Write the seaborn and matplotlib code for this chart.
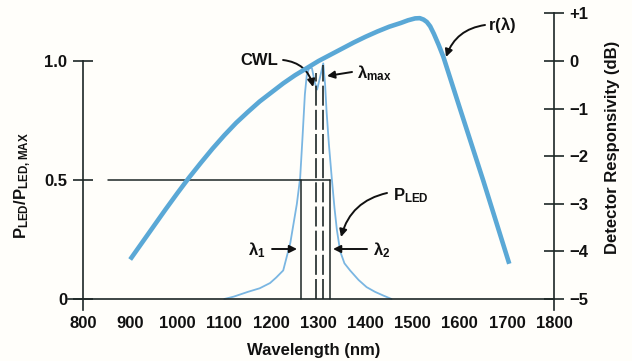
import matplotlib
matplotlib.use("Agg")
import matplotlib.pyplot as plt
import seaborn as sns
import numpy as np
import pandas as pd

# ---------------- data ----------------
# detector responsivity r(lambda), dB (right axis)
resp_wl = [900, 925, 950, 975, 1000, 1025, 1050, 1075, 1100, 1125, 1150, 1175,
           1200, 1225, 1250, 1275, 1300, 1325, 1350, 1375, 1400, 1425, 1450,
           1475, 1490, 1505, 1515, 1523, 1530, 1537, 1545, 1555, 1565, 1600,
           1650, 1705]
resp_db = [-4.17, -3.82, -3.47, -3.12, -2.78, -2.45, -2.14, -1.84, -1.56, -1.30,
           -1.07, -0.85, -0.66, -0.47, -0.30, -0.15, 0.0, 0.13, 0.26, 0.39, 0.51,
           0.62, 0.72, 0.80, 0.855, 0.895, 0.90, 0.87, 0.82, 0.73, 0.57, 0.34,
           0.09, -0.99, -2.52, -4.26]

# LED spectrum, normalised power (left axis)
led_wl = [1100, 1120, 1150, 1175, 1197, 1210, 1225, 1240, 1254, 1261, 1266, 1271,
          1275, 1280, 1286, 1292, 1297, 1303, 1310, 1314, 1317, 1322, 1328, 1334,
          1339, 1346, 1355, 1367, 1385, 1402, 1420, 1437, 1455]
led_p = [0.0, 0.01, 0.03, 0.045, 0.067, 0.09, 0.12, 0.235, 0.40, 0.51, 0.68, 0.86,
         0.94, 0.97, 0.97, 0.91, 0.88, 0.93, 0.99, 0.90, 0.79, 0.65, 0.51, 0.38,
         0.29, 0.20, 0.15, 0.12, 0.08, 0.05, 0.03, 0.015, 0.0]

# marked wavelengths
lambda_1 = 1262
cwl = 1295
lambda_max = 1310
lambda_2 = 1324
half_max = 0.5
half_line_start = 852
cwl_top = 0.95
lmax_top = 0.985

x_ticks = [800, 900, 1000, 1100, 1200, 1300, 1400, 1500, 1600, 1700, 1800]
left_ticks = [0, 0.5, 1.0]
left_ticklabels = ["0", "0.5", "1.0"]
right_ticks = [-5, -4, -3, -2, -1, 0, 1]
right_ticklabels = ["\u22125", "\u22124", "\u22123", "\u22122", "\u22121", "0", "+1"]

# ---------------- style ----------------
sns.set_style("white")
plt.rcParams["font.family"] = ["Liberation Sans", "DejaVu Sans"]
plt.rcParams["font.weight"] = "bold"
plt.rcParams["axes.labelweight"] = "bold"
plt.rcParams["mathtext.fontset"] = "custom"
plt.rcParams["mathtext.rm"] = "Liberation Sans:bold"
plt.rcParams["mathtext.it"] = "Liberation Sans:bold"
plt.rcParams["mathtext.bf"] = "Liberation Sans:bold"

INK = "#1c2626"
BLUE = "#5aa8d6"
LIGHT = "#7ab6e2"
BG = "#fffefa"
FS = 12

fig = plt.figure(figsize=(6.32, 3.61), dpi=100, facecolor=BG)
ax = fig.add_axes([68 / 632, 51 / 361, 486 / 632, 296.6 / 361])
ax.set_facecolor("none")

ybot = -11 / 238
ax.set_xlim(768, 1800)
ax.set_ylim(ybot, 1.2)

# LED spectrum
led_df = pd.DataFrame({"wl": led_wl, "p": led_p})
sns.lineplot(data=led_df, x="wl", y="p", ax=ax, color=LIGHT, lw=1.3, sort=False)
ax.get_lines()[-1].set_solid_joinstyle("round")

# half-max line and markers
ax.plot([half_line_start, lambda_2], [half_max, half_max], color=INK, lw=1.1)
ax.plot([lambda_1, lambda_1], [0, half_max], color=INK, lw=1.1)
ax.plot([lambda_2, lambda_2], [0, half_max], color=INK, lw=1.1)
ax.plot([cwl, cwl], [0, cwl_top], color=INK, lw=1.2, ls=(0, (12, 2.5)))
ax.plot([lambda_max, lambda_max], [0, lmax_top], color=INK, lw=1.2, ls=(0, (12, 2.5)))

# spines
for s in ["top", "right"]:
    ax.spines[s].set_visible(False)
ax.spines["bottom"].set_position(("data", 0))
ax.spines["bottom"].set_bounds(768, 1800)
ax.spines["left"].set_position(("data", 800))
ax.spines["left"].set_bounds(ybot, 1.0)
for s in ["bottom", "left"]:
    ax.spines[s].set_color(INK)
    ax.spines[s].set_linewidth(1.2)

ax.set_xticks(x_ticks)
ax.set_xticklabels([str(v) for v in x_ticks])
ax.set_yticks(left_ticks)
ax.set_yticklabels(left_ticklabels)
ax.tick_params(axis="x", direction="inout", length=10, width=1.2, color=INK,
               labelsize=FS, pad=7, labelcolor="#111111")
ax.tick_params(axis="y", direction="inout", length=14, width=1.2, color=INK,
               labelsize=FS, pad=4.3, labelcolor="#111111")
for lab in ax.get_xticklabels() + ax.get_yticklabels():
    lab.set_fontweight("bold")

ax.set_xlabel("Wavelength (nm)", fontsize=FS, fontweight="bold", color="#111111")
ax.xaxis.set_label_coords((314 - 68) / 486, (310 - 350) / 296.6)
ax.xaxis.label.set_va("center")
ax.set_ylabel("")

# right axis: responsivity
ax2 = ax.twinx()
ax2.set_facecolor("none")
ax2.set_ylim(-5 + 5 * ybot, 1.0)
resp_df = pd.DataFrame({"wl": resp_wl, "db": resp_db})
sns.lineplot(data=resp_df, x="wl", y="db", ax=ax2, color=BLUE, lw=3.3, sort=False)
line = ax2.get_lines()[-1]
line.set_solid_joinstyle("round")
line.set_solid_capstyle("butt")
ax2.set_xlim(768, 1800)
for s in ["top", "left", "bottom"]:
    ax2.spines[s].set_visible(False)
ax2.spines["right"].set_bounds(-5 + 5 * ybot, 1.0)
ax2.spines["right"].set_color(INK)
ax2.spines["right"].set_linewidth(1.2)
ax2.set_yticks(right_ticks)
ax2.set_yticklabels(right_ticklabels)
ax2.tick_params(axis="y", direction="inout", length=15, width=1.2, color=INK,
                labelsize=FS, pad=3.6, labelcolor="#111111")
for lab in ax2.get_yticklabels():
    lab.set_fontweight("bold")
ax2.set_ylabel("")
ax2.set_xlabel("")

# axis titles
fig.text(23 / 632, 1 - 186 / 361, r"$P_{LED}/P_{LED,MAX}$", rotation=90,
         ha="center", va="center", fontsize=FS, color="#111111")
fig.text(612 / 632, 1 - 147 / 361, "Detector Responsivity (dB)", rotation=90,
         ha="center", va="center", fontsize=FS, fontweight="bold", color="#111111")

# annotations (left-axis data coordinates)
def px2d(px, py):
    return 800 + (px - 83) / 0.471, (299 - py) / 238

arrow_kw = dict(arrowstyle="-|>", color="#111111", lw=1.4, mutation_scale=11,
                shrinkA=0, shrinkB=0)

def label(txt, px, py, ha="center"):
    x, y = px2d(px, py)
    ax.text(x, y, txt, ha=ha, va="center", fontsize=FS, fontweight="bold",
            color="#111111")

def arrow(p_tail, p_tip, rad=0.0):
    kw = dict(arrow_kw)
    kw["connectionstyle"] = f"arc3,rad={rad}"
    ax.annotate("", xy=px2d(*p_tip), xytext=px2d(*p_tail), arrowprops=kw)

label("CWL", 259, 61)
arrow((283, 60), (313, 87), rad=-0.35)

label(r"$\lambda_{max}$", 357, 73, ha="left")
arrow((352, 72), (327, 76))

label(r"$\lambda_1$", 257, 250)
arrow((272, 249), (297, 249))

label(r"$\lambda_2$", 382, 250)
arrow((367, 249), (333, 249))

label(r"$P_{LED}$", 393, 196, ha="left")
arrow((387, 193), (341, 237), rad=0.3)

label(r"r($\lambda$)", 488, 25, ha="left")
arrow((485, 25), (446, 57), rad=0.3)

fig.savefig("out.png", dpi=100, facecolor=BG)
